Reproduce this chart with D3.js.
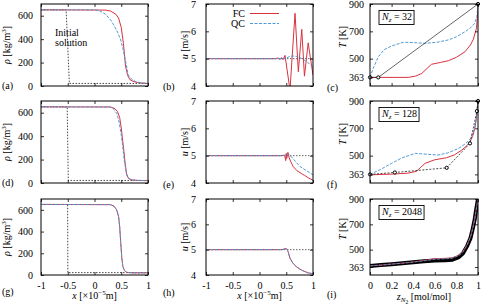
<!DOCTYPE html>
<html>
<head>
<meta charset="utf-8">
<script src="https://cdn.jsdelivr.net/npm/d3@7"></script>
<style>
  body { margin: 0; background: #fff; }
  svg text { font-family: "Liberation Serif", "DejaVu Serif", serif; font-size: 10px; fill: #000; }
  .frame { fill: none; stroke: #000; stroke-width: 1; }
  .tick line { stroke: #000; stroke-width: 0.8; }
  .domain { display: none; }
</style>
</head>
<body>
<div id="chart"></div>
<script>
// ---------- data ----------
// density, column 1
const rhoInitX1 = [-1, -0.53, -0.47, 1];
const rhoInitX2 = [-1, -0.51, -0.49, 1];
const rhoInitX3 = [-1, -0.502, -0.498, 1];
const rhoInitY = [650, 650, 22, 22];

const rhoFcX1 = [-1, 0.2, 0.3, 0.4, 0.45, 0.5, 0.54, 0.58, 0.62, 0.66, 0.72, 0.8, 0.9, 1];
const rhoFcY1 = [650, 648, 640, 612, 580, 500, 365, 170, 90, 55, 40, 30, 24, 22];
const rhoQcX1 = [-1, 0, 0.08, 0.2, 0.3, 0.36, 0.43, 0.49, 0.53, 0.57, 0.63, 0.7, 0.76, 0.85, 1];
const rhoQcY1 = [650, 650, 645, 615, 565, 521, 460, 393, 320, 237, 94, 55, 40, 28, 20];

const rhoFcX2 = [-1, 0.3, 0.38, 0.43, 0.47, 0.5, 0.52, 0.55, 0.57, 0.6, 0.64, 0.7, 0.8, 1];
const rhoFcY2 = [650, 649, 635, 610, 560, 470, 390, 270, 180, 70, 38, 26, 22, 20];
const rhoQcX2 = [-1, 0.3, 0.36, 0.42, 0.46, 0.5, 0.53, 0.56, 0.6, 0.64, 0.7, 0.8, 1];
const rhoQcY2 = [650, 648, 630, 590, 520, 410, 300, 180, 80, 40, 27, 22, 20];

const rhoX3 = [-1, 0.3, 0.36, 0.41, 0.45, 0.47, 0.49, 0.51, 0.53, 0.56, 0.6, 0.7, 1];
const rhoY3 = [650, 648, 635, 605, 540, 450, 300, 160, 80, 40, 25, 20, 20];

// velocity, column 2
const uInitX = [-1, 1];
const uInitY = [5, 5];

const uFcX1 = [-1, 0.3, 0.35, 0.38, 0.41, 0.44, 0.477, 0.57, 0.664, 0.726, 0.79, 0.84, 0.91, 1];
const uFcY1 = [5, 5, 5.03, 4.97, 5.04, 4.96, 5.12, 3.85, 6.66, 4.52, 6.07, 4.36, 5.58, 4.4];
const uQcX1 = [-1, 0.4, 0.5, 0.55, 0.62, 0.7, 0.8, 0.87, 0.93, 1];
const uQcY1 = [5, 5, 5.02, 5.07, 5.1, 5.08, 5.0, 4.9, 4.82, 4.68];

const uFcX2 = [-1, 0.4, 0.47, 0.49, 0.5, 0.51, 0.52, 0.535, 0.55, 0.58, 0.63, 0.7, 0.78, 0.84, 0.92, 1];
const uFcY2 = [5, 5, 5.02, 4.82, 5.08, 4.9, 5.1, 5.12, 4.95, 4.8, 4.6, 4.45, 4.35, 4.28, 4.18, 4.1];
const uQcX2 = [-1, 0.45, 0.5, 0.55, 0.6, 0.68, 0.76, 0.87, 1];
const uQcY2 = [5, 5, 5.03, 5.05, 4.95, 4.77, 4.6, 4.46, 4.3];

const uX3 = [-1, 0.42, 0.47, 0.5, 0.53, 0.57, 0.63, 0.69, 0.75, 0.81, 0.9, 1];
const uY3 = [5, 5, 5.03, 5.05, 4.95, 4.66, 4.45, 4.33, 4.24, 4.17, 4.09, 4.05];

// temperature vs mole fraction, column 3
const tRefZ1 = [0, 0.077, 1];
const tRefT1 = [363, 363, 900];
const tFcZ1 = [0, 0.355, 0.42, 0.48, 0.53, 0.57, 0.65, 0.725, 0.8, 0.88, 0.93, 0.957, 0.985, 0.997, 1];
const tFcT1 = [363, 363, 372, 392, 430, 459, 472, 485, 510, 551, 600, 642, 720, 827, 900];
const tQcZ1 = [0, 0.03, 0.077, 0.13, 0.2, 0.31, 0.4, 0.51, 0.62, 0.725, 0.8, 0.88, 0.93, 0.97, 0.99, 1];
const tQcT1 = [363, 430, 514, 565, 593, 620, 618, 612, 620, 637, 660, 697, 725, 759, 810, 900];

const tRefZ2 = [0, 0.23, 0.71, 0.926, 0.99, 1];
const tRefT2 = [363, 377, 411, 590, 826, 900];
const tFcZ2 = [0, 0.2, 0.35, 0.43, 0.47, 0.51, 0.6, 0.71, 0.78, 0.85, 0.9, 0.926, 0.95, 0.97, 0.985, 0.995, 1];
const tFcT2 = [360, 365, 372, 385, 415, 444, 470, 485, 505, 541, 575, 603, 640, 700, 770, 860, 900];
const tQcZ2 = [0, 0.1, 0.2, 0.3, 0.42, 0.5, 0.63, 0.72, 0.82, 0.88, 0.926, 0.97, 0.99, 1];
const tQcT2 = [363, 400, 444, 485, 517, 512, 505, 520, 553, 585, 620, 700, 820, 900];

const tZ3 = [0, 0.1, 0.2, 0.3, 0.4, 0.5, 0.6, 0.7, 0.76, 0.82, 0.86, 0.9, 0.93, 0.95, 0.97, 0.98, 0.99, 1];
const tRefT3 = [372, 378, 385, 392, 400, 408, 415, 416, 420, 440, 470, 530, 590, 660, 740, 800, 850, 900];
const tFcT3 = [372, 378, 386, 394, 403, 415, 428, 432, 436, 455, 485, 540, 600, 665, 745, 800, 850, 900];
const tQcT3 = [372, 378, 386, 393, 402, 412, 424, 428, 432, 452, 480, 537, 597, 662, 742, 800, 850, 900];

// ticks and labels
const xTicks = [-1, -0.5, 0, 0.5, 1];
const zTicks = [0, 0.2, 0.4, 0.6, 0.8, 1];
const rhoTicks = [0, 200, 400, 600];
const uTicks = [4, 5, 6, 7];
const tTicks = [363, 500, 700, 900];
const nzLabels = ["32", "128", "2048"];
const panelLetters = ["(a)", "(b)", "(c)", "(d)", "(e)", "(f)", "(g)", "(h)", "(i)"];

// ---------- layout ----------
const width = 481, height = 306;
const cols = [{ x0: 41, x1: 148, pad: 8 }, { x0: 206, x1: 313, pad: 10 }, { x0: 370, x1: 478, pad: 6 }];
const rows = [{ y0: 4, y1: 86 }, { y0: 101, y1: 183 }, { y0: 199, y1: 275 }];
const red = "#d8323f", blue = "#4f9ad6";

const svg = d3.select("#chart").append("svg")
  .attr("width", width).attr("height", height);

const zip = (xs, ys) => xs.map((x, i) => [x, ys[i]]);

const drawPanel = (r, c, xDom, yDom, xt, yt, series, showX) => {
  const { x0, x1, pad } = cols[c];
  const { y0, y1 } = rows[r];
  const xScale = d3.scaleLinear().domain(xDom).range([x0, x1]);
  const yScale = d3.scaleLinear().domain(yDom).range([y1, y0]);
  const id = `clip-${r}-${c}`;
  svg.append("clipPath").attr("id", id)
    .append("rect").attr("x", x0).attr("y", y0).attr("width", x1 - x0).attr("height", y1 - y0);

  const g = svg.append("g").attr("clip-path", `url(#${id})`);
  const line = d3.line().x(d => xScale(d[0])).y(d => yScale(d[1]));
  series.forEach(s => {
    g.append("path")
      .attr("d", line(s.pts))
      .attr("fill", "none")
      .attr("stroke", s.color)
      .attr("stroke-width", s.w || 1)
      .attr("stroke-dasharray", s.dash || null);
    if (s.markers) {
      svg.append("g").selectAll("circle")
        .data(s.pts)
        .join("circle")
          .attr("cx", d => xScale(d[0]))
          .attr("cy", d => yScale(d[1]))
          .attr("r", s.markers)
          .attr("fill", "#fff")
          .attr("stroke", "#000")
          .attr("stroke-width", 1);
    }
  });

  // axes (inward, mirrored)
  const fmt = showX ? (d => String(d)) : "";
  const axes = [
    svg.append("g").attr("transform", `translate(0,${y1})`)
      .call(d3.axisBottom(xScale).tickValues(xt).tickSizeInner(-3).tickSizeOuter(0).tickPadding(7).tickFormat(fmt)),
    svg.append("g").attr("transform", `translate(0,${y0})`)
      .call(d3.axisTop(xScale).tickValues(xt).tickSizeInner(-3).tickSizeOuter(0).tickFormat("")),
    svg.append("g").attr("transform", `translate(${x0},0)`)
      .call(d3.axisLeft(yScale).tickValues(yt).tickSizeInner(-3).tickSizeOuter(0).tickPadding(pad).tickFormat(d => String(d))),
    svg.append("g").attr("transform", `translate(${x1},0)`)
      .call(d3.axisRight(yScale).tickValues(yt).tickSizeInner(-3).tickSizeOuter(0).tickFormat(""))
  ];
  axes.forEach(a => a.attr("font-family", null).attr("font-size", null));

  svg.append("rect").attr("class", "frame")
    .attr("x", x0).attr("y", y0).attr("width", x1 - x0).attr("height", y1 - y0);
};

// ---------- column 1: density ----------
const rhoSets = [
  [zip(rhoInitX1, rhoInitY), zip(rhoFcX1, rhoFcY1), zip(rhoQcX1, rhoQcY1)],
  [zip(rhoInitX2, rhoInitY), zip(rhoFcX2, rhoFcY2), zip(rhoQcX2, rhoQcY2)],
  [zip(rhoInitX3, rhoInitY), zip(rhoX3, rhoY3), zip(rhoX3, rhoY3)]
];
rhoSets.forEach((s, r) => {
  drawPanel(r, 0, [-1, 1], [0, 700], xTicks, rhoTicks, [
    { pts: s[0], color: "#333", dash: "1.5,1.5", w: 0.9 },
    { pts: s[1], color: red, w: 1 },
    { pts: s[2], color: blue, dash: "3,1.5", w: 1 }
  ], r === 2);
});

// ---------- column 2: velocity ----------
const uSets = [
  [zip(uFcX1, uFcY1), zip(uQcX1, uQcY1)],
  [zip(uFcX2, uFcY2), zip(uQcX2, uQcY2)],
  [zip(uX3, uY3), zip(uX3, uY3)]
];
uSets.forEach((s, r) => {
  drawPanel(r, 1, [-1, 1], [4, 7], xTicks, uTicks, [
    { pts: zip(uInitX, uInitY), color: "#555", dash: "1.5,1.5", w: 0.9 },
    { pts: s[0], color: red, w: 1 },
    { pts: s[1], color: blue, dash: "3,1.5", w: 1 }
  ], r === 2);
});

// ---------- column 3: temperature ----------
const tSets = [
  [{ pts: zip(tRefZ1, tRefT1), color: "#222", w: 0.7, markers: 1.6 }, zip(tFcZ1, tFcT1), zip(tQcZ1, tQcT1)],
  [{ pts: zip(tRefZ2, tRefT2), color: "#222", w: 0.8, dash: "2,1.5", markers: 1.6 }, zip(tFcZ2, tFcT2), zip(tQcZ2, tQcT2)],
  [{ pts: zip(tZ3, tRefT3), color: "#000", w: 4 }, zip(tZ3, tFcT3), zip(tZ3, tQcT3)]
];
tSets.forEach((s, r) => {
  const order = r === 2
    ? [s[0], { pts: s[1], color: red, w: 0.9 }, { pts: s[2], color: blue, dash: "3,1.5", w: 0.9 }]
    : [{ pts: s[1], color: red, w: 1 }, { pts: s[2], color: blue, dash: "3,1.5", w: 1 }, s[0]];
  drawPanel(r, 2, [0, 1], [300, 900], zTicks, tTicks, order, r === 2);

  // N_z box
  const { x0 } = cols[2];
  const { y0 } = rows[r];
  const t = svg.append("text").attr("x", x0 + 12).attr("y", y0 + 16).style("font-size", "10px");
  t.append("tspan").attr("font-style", "italic").text("N");
  t.append("tspan").attr("font-style", "italic").style("font-size", "7px").attr("dy", 2).text("z");
  t.append("tspan").attr("dy", -2).text(` = ${nzLabels[r]}`);
  const bb = t.node().getBBox();
  svg.append("rect").attr("x", bb.x - 2).attr("y", bb.y - 0.5)
    .attr("width", bb.width + 4).attr("height", bb.height + 1)
    .attr("fill", "none").attr("stroke", "#000").attr("stroke-width", 0.9);
});

// ---------- axis titles ----------
rows.forEach((row, r) => {
  const mid = (row.y0 + row.y1) / 2;
  const a = svg.append("text").attr("transform", `translate(10,${mid}) rotate(-90)`).attr("text-anchor", "middle");
  a.append("tspan").attr("font-style", "italic").text("ρ");
  a.append("tspan").text(" [kg/m");
  a.append("tspan").style("font-size", "7px").attr("dy", -4).text("3");
  a.append("tspan").attr("dy", 4).text("]");

  const b = svg.append("text").attr("transform", `translate(188,${mid}) rotate(-90)`).attr("text-anchor", "middle");
  b.append("tspan").attr("font-style", "italic").text("u");
  b.append("tspan").text(" [m/s]");

  const c = svg.append("text").attr("transform", `translate(346,${mid - 8}) rotate(-90)`).attr("text-anchor", "middle");
  c.append("tspan").attr("font-style", "italic").text("T");
  c.append("tspan").text(" [K]");
});

// bottom x titles
[0, 1].forEach(c => {
  const cx = (cols[c].x0 + cols[c].x1) / 2;
  const t = svg.append("text").attr("x", cx).attr("y", 299).attr("text-anchor", "middle");
  t.append("tspan").attr("font-style", "italic").text("x");
  t.append("tspan").text(" [×10");
  t.append("tspan").style("font-size", "7px").attr("dy", -4).text("−5");
  t.append("tspan").attr("dy", 4).text("m]");
});
{
  const t = svg.append("text").attr("x", 424).attr("y", 300).attr("text-anchor", "middle");
  t.append("tspan").attr("font-style", "italic").text("z");
  t.append("tspan").attr("font-style", "italic").style("font-size", "7px").attr("dy", 2).text("N");
  t.append("tspan").style("font-size", "5.5px").attr("dy", 1.5).text("2");
  t.append("tspan").attr("dy", -3.5).text(" [mol/mol]");
}

// panel letters
const letterX = [2, 163, 327];
const letterY = [[89, 90, 91], [186, 188, 188], [295, 296, 298]];
panelLetters.forEach((l, i) => {
  const r = Math.floor(i / 3), c = i % 3;
  svg.append("text").attr("x", letterX[c]).attr("y", letterY[r][c]).text(l);
});

// "Initial solution" annotation
svg.append("text").attr("x", 55).attr("y", 36).text("Initial");
svg.append("text").attr("x", 55).attr("y", 46).text("solution");

// legend in panel (b)
const legend = [{ name: "FC", color: red, dash: null, y: 13.5 }, { name: "QC", color: blue, dash: "3,1.5", y: 23.5 }];
legend.forEach(d => {
  svg.append("text").attr("x", 245).attr("y", d.y + 3.2).attr("text-anchor", "end").text(d.name);
  svg.append("line").attr("x1", 250).attr("x2", 279).attr("y1", d.y).attr("y2", d.y)
    .attr("stroke", d.color).attr("stroke-width", 1).attr("stroke-dasharray", d.dash);
});
</script>
</body>
</html>
